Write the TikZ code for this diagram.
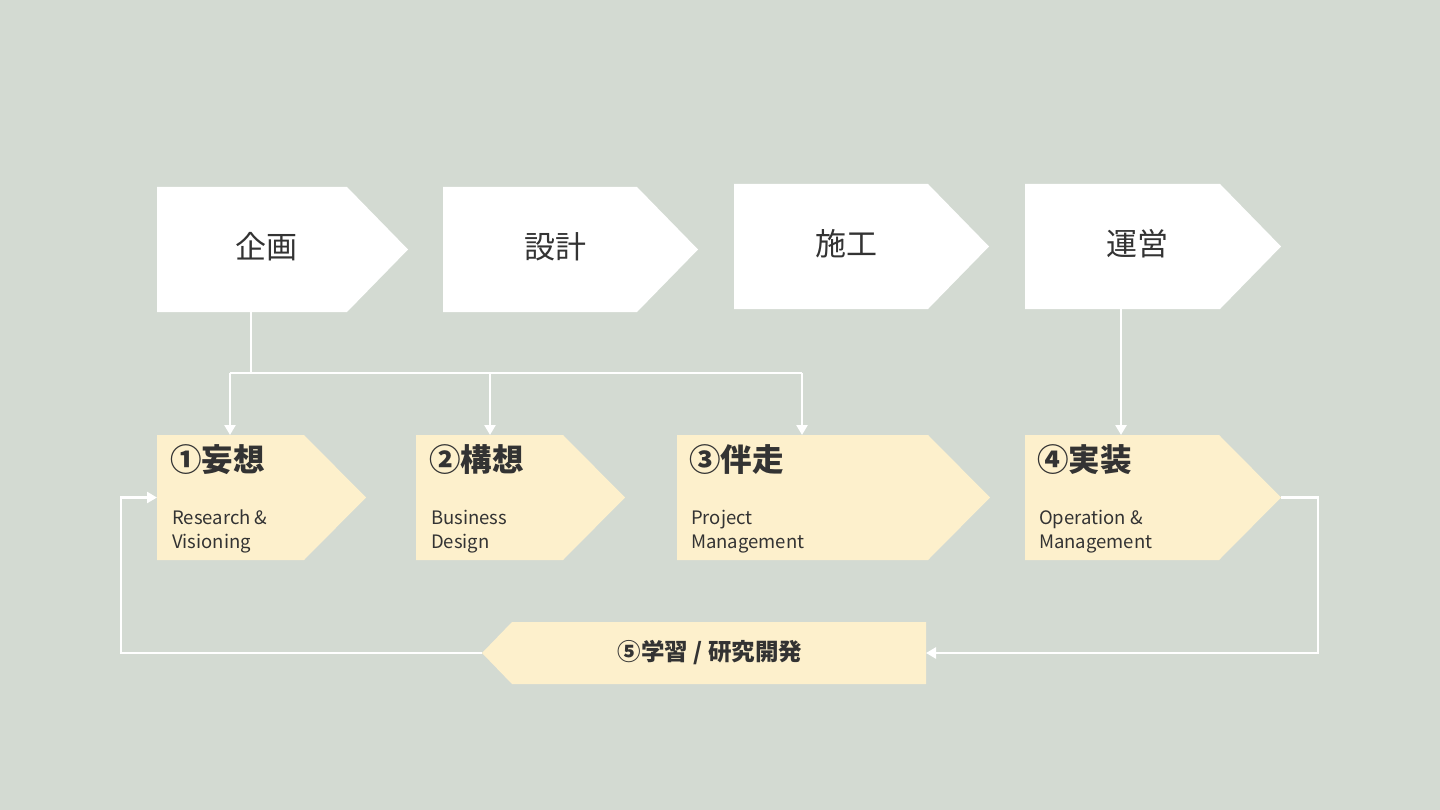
\documentclass[tikz,border=0pt]{standalone}
\usepackage{fontspec}
\setmainfont{Noto Sans CJK JP}
\usetikzlibrary{arrows.meta,calc}
\definecolor{bg}{HTML}{D3DAD2}
\definecolor{yel}{HTML}{FDF0CC}
\definecolor{txt}{HTML}{333333}
\begin{document}
\begin{tikzpicture}[x=1pt,y=-1pt,
  box/.style={inner sep=0pt,outer sep=0pt,minimum width=#1},
  tallbox/.style={minimum height=125pt},
  toplabel/.style={font=\fontsize{31}{36}\selectfont,text=txt,inner sep=0pt},
  title/.style={font=\fontsize{31.5}{36}\selectfont\bfseries,text=txt,inner sep=0pt,anchor=west},
  sub/.style={font=\fontsize{18.5}{23.5}\selectfont,text=txt,inner sep=0pt,anchor=north west,align=left},
  bartext/.style={font=\fontsize{23.5}{27}\selectfont\bfseries,text=txt,inner sep=0pt},
  line/.style={draw=white,line width=2.5pt},
  arr/.style={line,-{Triangle[length=10pt,width=11pt]}}]
\useasboundingbox (0,0) rectangle (1440,810);
\fill[bg] (0,0) rectangle (1440,810);
% top process shapes
\node[box=251,tallbox] (p1) at (282.5,249.5) {};
\node[box=255,tallbox] (p2) at (570.5,249.5) {};
\node[box=255,tallbox] (p3) at (861.5,246.5) {};
\node[box=256,tallbox] (p4) at (1153,246.5) {};
\foreach \n in {p1,p2,p3,p4}{
  \fill[white] (\n.north west) -- ($(\n.north east)+(-61,0)$) -- (\n.east) -- ($(\n.south east)+(-61,0)$) -- (\n.south west) -- cycle;
}
\node[toplabel] (t1) at (266,247) {企画};
\node[toplabel] (t2) at (555,247) {設計};
\node[toplabel] (t3) at (846,244) {施工};
\node[toplabel] (t4) at (1137,244) {運営};
% yellow shapes
\node[box=209,tallbox] (y1) at (261.5,497.5) {};
\node[box=209,tallbox] (y2) at (520.5,497.5) {};
\node[box=313,tallbox] (y3) at (833.5,497.5) {};
\node[box=256,tallbox] (y4) at (1153,497.5) {};
\foreach \n in {y1,y2,y3,y4}{
  \fill[yel] (\n.north west) -- ($(\n.north east)+(-62,0)$) -- (\n.east) -- ($(\n.south east)+(-62,0)$) -- (\n.south west) -- cycle;
}
\node[title] (h1) at (170,460) {①妄想};
\node[title] (h2) at (429,460) {②構想};
\node[title] (h3) at (689,460) {③伴走};
\node[title] (h4) at (1037,460) {④実装};
\node[sub] (s1) at (172,510) {Research \&\\Visioning};
\node[sub] (s2) at (431,510) {Business\\Design};
\node[sub] (s3) at (691,510) {Project\\Management};
\node[sub] (s4) at (1039,510) {Operation \&\\Management};
% bottom bar
\node[box=444,minimum height=62pt] (bar) at (704,653) {};
\fill[yel] (bar.north east) -- ($(bar.north west)+(30,0)$) -- (bar.west) -- ($(bar.south west)+(30,0)$) -- (bar.south east) -- cycle;
\node[bartext] (bt) at (710,653) {⑤学習 / 研究開発};
% connectors
\coordinate (j) at ($(p1.south west)+(94,0)$);
\coordinate (bus) at (0,373);
\coordinate (a1) at ($(y1.north west)+(73,0)$);
\coordinate (a2) at ($(y2.north west)+(74,0)$);
\coordinate (a3) at ($(y3.north west)+(125,0)$);
\draw[line] (j) -- (j |- bus);
\draw[line] (a1 |- bus) -- (a3 |- bus);
\draw[arr] (a1 |- bus) -- (a1);
\draw[arr] (a2 |- bus) -- (a2);
\draw[arr] (a3 |- bus) -- (a3);
\draw[arr] ($(p4.south west)+(96,0)$) -- ($(y4.north west)+(96,0)$);
\draw[arr] (y4.east) -- ++(37,0) |- (bar.east);
\draw[arr] (bar.west) -- ++(-361,0) |- (y1.west);
\end{tikzpicture}
\end{document}
